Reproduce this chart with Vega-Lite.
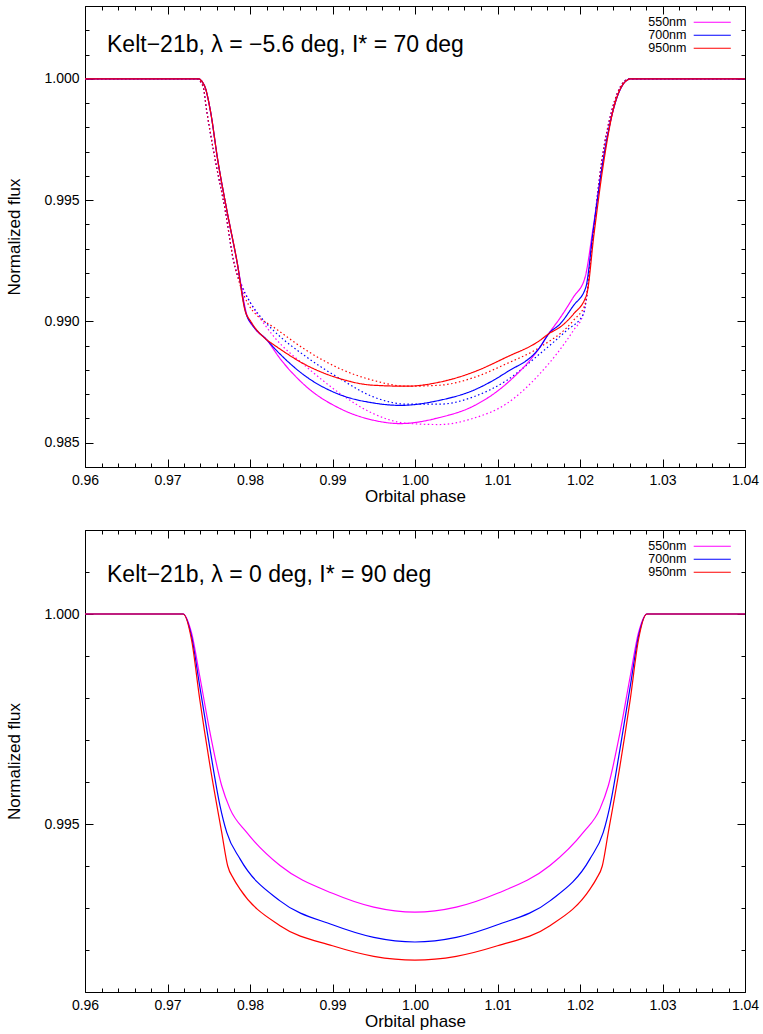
{
  "$schema": "https://vega.github.io/schema/vega-lite/v6.json",
  "padding": {"left": 5, "top": 5, "right": 4, "bottom": 1},
  "background": "white",
  "config": {
    "font": "Liberation Sans",
    "view": {"stroke": "black", "strokeWidth": 1},
    "axis": {"domain": false, "grid": false, "tickColor": "black", "tickWidth": 1, "labelColor": "black", "titleColor": "black", "titleFontSize": 17, "titleFontWeight": "normal", "labelFont": "Liberation Sans", "titleFont": "Liberation Sans", "labelOverlap": false, "labelFlush": false},
    "legend": {"orient": "none", "title": null, "symbolType": "M-5,0H5", "symbolSize": 55, "symbolStrokeWidth": 1.2, "labelAlign": "right", "labelOffset": -32, "labelFontSize": 12.5, "labelFont": "Liberation Sans", "labelColor": "black", "rowPadding": 0, "padding": 0, "legendX": 621, "legendY": 10}
  },
  "spacing": 24,
  "resolve": {"scale": {"x": "independent", "y": "independent", "color": "shared"}, "legend": {"color": "independent"}},
  "datasets": {
    "top": [
      {"band":"550nm","style":"dotted","phase":0.96,"flux":1.0},{"band":"550nm","style":"dotted","phase":0.9735,"flux":1.0},{"band":"550nm","style":"dotted","phase":0.9743,"flux":0.9997},{"band":"550nm","style":"dotted","phase":0.97475,"flux":0.99868},{"band":"550nm","style":"dotted","phase":0.9758,"flux":0.99663},{"band":"550nm","style":"dotted","phase":0.977,"flux":0.99457},{"band":"550nm","style":"dotted","phase":0.978,"flux":0.99251},{"band":"550nm","style":"dotted","phase":0.979,"flux":0.9915},{"band":"550nm","style":"dotted","phase":0.98,"flux":0.9908},{"band":"550nm","style":"dotted","phase":0.9815,"flux":0.99},{"band":"550nm","style":"dotted","phase":0.98283,"flux":0.9894},{"band":"550nm","style":"dotted","phase":0.98687,"flux":0.98812},{"band":"550nm","style":"dotted","phase":0.99091,"flux":0.98703},{"band":"550nm","style":"dotted","phase":0.99495,"flux":0.9862},{"band":"550nm","style":"dotted","phase":0.99899,"flux":0.9858},{"band":"550nm","style":"dotted","phase":1.003,"flux":0.98575},{"band":"550nm","style":"dotted","phase":1.007,"flux":0.986},{"band":"550nm","style":"dotted","phase":1.0111,"flux":0.98661},{"band":"550nm","style":"dotted","phase":1.01515,"flux":0.98785},{"band":"550nm","style":"dotted","phase":1.0192,"flux":0.98963},{"band":"550nm","style":"dotted","phase":1.0204,"flux":0.9903},{"band":"550nm","style":"dotted","phase":1.0208,"flux":0.991},{"band":"550nm","style":"dotted","phase":1.0215,"flux":0.9933},{"band":"550nm","style":"dotted","phase":1.02265,"flux":0.99663},{"band":"550nm","style":"dotted","phase":1.02385,"flux":0.99868},{"band":"550nm","style":"dotted","phase":1.02525,"flux":0.99985},{"band":"550nm","style":"dotted","phase":1.026,"flux":1.0},{"band":"550nm","style":"dotted","phase":1.04,"flux":1.0},
      {"band":"700nm","style":"dotted","phase":0.96,"flux":1.0},{"band":"700nm","style":"dotted","phase":0.9735,"flux":1.0},{"band":"700nm","style":"dotted","phase":0.9743,"flux":0.9997},{"band":"700nm","style":"dotted","phase":0.97475,"flux":0.99868},{"band":"700nm","style":"dotted","phase":0.9758,"flux":0.99663},{"band":"700nm","style":"dotted","phase":0.977,"flux":0.99457},{"band":"700nm","style":"dotted","phase":0.978,"flux":0.99251},{"band":"700nm","style":"dotted","phase":0.979,"flux":0.99145},{"band":"700nm","style":"dotted","phase":0.98,"flux":0.9908},{"band":"700nm","style":"dotted","phase":0.9815,"flux":0.9901},{"band":"700nm","style":"dotted","phase":0.98283,"flux":0.98963},{"band":"700nm","style":"dotted","phase":0.98687,"flux":0.98853},{"band":"700nm","style":"dotted","phase":0.99091,"flux":0.98764},{"band":"700nm","style":"dotted","phase":0.99495,"flux":0.98689},{"band":"700nm","style":"dotted","phase":0.99899,"flux":0.98659},{"band":"700nm","style":"dotted","phase":1.003,"flux":0.98659},{"band":"700nm","style":"dotted","phase":1.00707,"flux":0.98689},{"band":"700nm","style":"dotted","phase":1.01111,"flux":0.98757},{"band":"700nm","style":"dotted","phase":1.01515,"flux":0.98867},{"band":"700nm","style":"dotted","phase":1.01838,"flux":0.98963},{"band":"700nm","style":"dotted","phase":1.0204,"flux":0.9903},{"band":"700nm","style":"dotted","phase":1.0208,"flux":0.991},{"band":"700nm","style":"dotted","phase":1.0215,"flux":0.9933},{"band":"700nm","style":"dotted","phase":1.02265,"flux":0.99663},{"band":"700nm","style":"dotted","phase":1.02385,"flux":0.99868},{"band":"700nm","style":"dotted","phase":1.02525,"flux":0.99985},{"band":"700nm","style":"dotted","phase":1.026,"flux":1.0},{"band":"700nm","style":"dotted","phase":1.04,"flux":1.0},
      {"band":"950nm","style":"dotted","phase":0.96,"flux":1.0},{"band":"950nm","style":"dotted","phase":0.9735,"flux":1.0},{"band":"950nm","style":"dotted","phase":0.9743,"flux":0.9997},{"band":"950nm","style":"dotted","phase":0.97475,"flux":0.99868},{"band":"950nm","style":"dotted","phase":0.9758,"flux":0.99663},{"band":"950nm","style":"dotted","phase":0.977,"flux":0.99457},{"band":"950nm","style":"dotted","phase":0.978,"flux":0.99251},{"band":"950nm","style":"dotted","phase":0.9788,"flux":0.9915},{"band":"950nm","style":"dotted","phase":0.9798,"flux":0.9907},{"band":"950nm","style":"dotted","phase":0.981,"flux":0.9902},{"band":"950nm","style":"dotted","phase":0.98283,"flux":0.98977},{"band":"950nm","style":"dotted","phase":0.98687,"flux":0.9888},{"band":"950nm","style":"dotted","phase":0.99091,"flux":0.98805},{"band":"950nm","style":"dotted","phase":0.99495,"flux":0.98757},{"band":"950nm","style":"dotted","phase":0.99899,"flux":0.98733},{"band":"950nm","style":"dotted","phase":1.003,"flux":0.98737},{"band":"950nm","style":"dotted","phase":1.00707,"flux":0.98768},{"band":"950nm","style":"dotted","phase":1.01111,"flux":0.98826},{"band":"950nm","style":"dotted","phase":1.01515,"flux":0.98894},{"band":"950nm","style":"dotted","phase":1.0192,"flux":0.99004},{"band":"950nm","style":"dotted","phase":1.0206,"flux":0.9907},{"band":"950nm","style":"dotted","phase":1.0215,"flux":0.9933},{"band":"950nm","style":"dotted","phase":1.02265,"flux":0.99663},{"band":"950nm","style":"dotted","phase":1.02385,"flux":0.99868},{"band":"950nm","style":"dotted","phase":1.02525,"flux":0.99985},{"band":"950nm","style":"dotted","phase":1.026,"flux":1.0},{"band":"950nm","style":"dotted","phase":1.04,"flux":1.0},
      {"band":"550nm","style":"solid","phase":0.96,"flux":1.0},{"band":"550nm","style":"solid","phase":0.9737,"flux":1.0},{"band":"550nm","style":"solid","phase":0.9745,"flux":0.9997},{"band":"550nm","style":"solid","phase":0.9752,"flux":0.99868},{"band":"550nm","style":"solid","phase":0.9761,"flux":0.99663},{"band":"550nm","style":"solid","phase":0.9772,"flux":0.99457},{"band":"550nm","style":"solid","phase":0.9784,"flux":0.99251},{"band":"550nm","style":"solid","phase":0.9796,"flux":0.9903},{"band":"550nm","style":"solid","phase":0.9806,"flux":0.9897},{"band":"550nm","style":"solid","phase":0.982,"flux":0.98925},{"band":"550nm","style":"solid","phase":0.98364,"flux":0.98847},{"band":"550nm","style":"solid","phase":0.98687,"flux":0.9873},{"band":"550nm","style":"solid","phase":0.99091,"flux":0.98641},{"band":"550nm","style":"solid","phase":0.99495,"flux":0.98593},{"band":"550nm","style":"solid","phase":0.99818,"flux":0.98579},{"band":"550nm","style":"solid","phase":1.003,"flux":0.98604},{"band":"550nm","style":"solid","phase":1.00707,"flux":0.98651},{"band":"550nm","style":"solid","phase":1.01111,"flux":0.98744},{"band":"550nm","style":"solid","phase":1.01515,"flux":0.98894},{"band":"550nm","style":"solid","phase":1.0162,"flux":0.98949},{"band":"550nm","style":"solid","phase":1.0176,"flux":0.99015},{"band":"550nm","style":"solid","phase":1.0192,"flux":0.991},{"band":"550nm","style":"solid","phase":1.0206,"flux":0.9918},{"band":"550nm","style":"solid","phase":1.0216,"flux":0.99388},{"band":"550nm","style":"solid","phase":1.0228,"flux":0.99663},{"band":"550nm","style":"solid","phase":1.024,"flux":0.99868},{"band":"550nm","style":"solid","phase":1.0254,"flux":0.99985},{"band":"550nm","style":"solid","phase":1.0262,"flux":1.0},{"band":"550nm","style":"solid","phase":1.04,"flux":1.0},
      {"band":"700nm","style":"solid","phase":0.96,"flux":1.0},{"band":"700nm","style":"solid","phase":0.9737,"flux":1.0},{"band":"700nm","style":"solid","phase":0.9745,"flux":0.9997},{"band":"700nm","style":"solid","phase":0.9752,"flux":0.99868},{"band":"700nm","style":"solid","phase":0.9761,"flux":0.99663},{"band":"700nm","style":"solid","phase":0.9772,"flux":0.99457},{"band":"700nm","style":"solid","phase":0.9784,"flux":0.99251},{"band":"700nm","style":"solid","phase":0.9795,"flux":0.99035},{"band":"700nm","style":"solid","phase":0.9803,"flux":0.98985},{"band":"700nm","style":"solid","phase":0.982,"flux":0.98925},{"band":"700nm","style":"solid","phase":0.98283,"flux":0.98894},{"band":"700nm","style":"solid","phase":0.98687,"flux":0.98771},{"band":"700nm","style":"solid","phase":0.99091,"flux":0.98698},{"band":"700nm","style":"solid","phase":0.99495,"flux":0.98664},{"band":"700nm","style":"solid","phase":0.99818,"flux":0.98654},{"band":"700nm","style":"solid","phase":1.003,"flux":0.98675},{"band":"700nm","style":"solid","phase":1.00707,"flux":0.98716},{"band":"700nm","style":"solid","phase":1.01111,"flux":0.98791},{"band":"700nm","style":"solid","phase":1.01515,"flux":0.98894},{"band":"700nm","style":"solid","phase":1.0162,"flux":0.98949},{"band":"700nm","style":"solid","phase":1.0176,"flux":0.9899},{"band":"700nm","style":"solid","phase":1.0192,"flux":0.99065},{"band":"700nm","style":"solid","phase":1.0207,"flux":0.9914},{"band":"700nm","style":"solid","phase":1.0216,"flux":0.99375},{"band":"700nm","style":"solid","phase":1.0228,"flux":0.99663},{"band":"700nm","style":"solid","phase":1.024,"flux":0.99868},{"band":"700nm","style":"solid","phase":1.0254,"flux":0.99985},{"band":"700nm","style":"solid","phase":1.0262,"flux":1.0},{"band":"700nm","style":"solid","phase":1.04,"flux":1.0},
      {"band":"950nm","style":"solid","phase":0.96,"flux":1.0},{"band":"950nm","style":"solid","phase":0.9737,"flux":1.0},{"band":"950nm","style":"solid","phase":0.9745,"flux":0.9997},{"band":"950nm","style":"solid","phase":0.9752,"flux":0.99868},{"band":"950nm","style":"solid","phase":0.9761,"flux":0.99663},{"band":"950nm","style":"solid","phase":0.9772,"flux":0.99457},{"band":"950nm","style":"solid","phase":0.9784,"flux":0.99251},{"band":"950nm","style":"solid","phase":0.9794,"flux":0.99045},{"band":"950nm","style":"solid","phase":0.9801,"flux":0.99},{"band":"950nm","style":"solid","phase":0.982,"flux":0.98925},{"band":"950nm","style":"solid","phase":0.98283,"flux":0.98905},{"band":"950nm","style":"solid","phase":0.98687,"flux":0.98819},{"band":"950nm","style":"solid","phase":0.99091,"flux":0.98764},{"band":"950nm","style":"solid","phase":0.99495,"flux":0.98737},{"band":"950nm","style":"solid","phase":0.99899,"flux":0.98733},{"band":"950nm","style":"solid","phase":1.003,"flux":0.9875},{"band":"950nm","style":"solid","phase":1.00707,"flux":0.98791},{"band":"950nm","style":"solid","phase":1.01111,"flux":0.98853},{"band":"950nm","style":"solid","phase":1.01515,"flux":0.98922},{"band":"950nm","style":"solid","phase":1.0162,"flux":0.98949},{"band":"950nm","style":"solid","phase":1.0176,"flux":0.98977},{"band":"950nm","style":"solid","phase":1.0192,"flux":0.9903},{"band":"950nm","style":"solid","phase":1.0208,"flux":0.9911},{"band":"950nm","style":"solid","phase":1.0217,"flux":0.9936},{"band":"950nm","style":"solid","phase":1.0228,"flux":0.9964},{"band":"950nm","style":"solid","phase":1.024,"flux":0.99868},{"band":"950nm","style":"solid","phase":1.0254,"flux":0.99985},{"band":"950nm","style":"solid","phase":1.0262,"flux":1.0},{"band":"950nm","style":"solid","phase":1.04,"flux":1.0}
    ],
    "bottom": [
      {"band":"550nm","phase":0.96,"flux":1.0},{"band":"550nm","phase":0.9719,"flux":1.0},{"band":"550nm","phase":0.9729,"flux":0.99956},{"band":"550nm","phase":0.9739,"flux":0.99853},{"band":"550nm","phase":0.97515,"flux":0.99718},{"band":"550nm","phase":0.97657,"flux":0.99591},{"band":"550nm","phase":0.97758,"flux":0.99536},{"band":"550nm","phase":0.9796,"flux":0.9948},{"band":"550nm","phase":0.98364,"flux":0.99401},{"band":"550nm","phase":0.99,"flux":0.99335},{"band":"550nm","phase":0.995,"flux":0.99302},{"band":"550nm","phase":1.0,"flux":0.9929},{"band":"550nm","phase":1.005,"flux":0.99302},{"band":"550nm","phase":1.01,"flux":0.99335},{"band":"550nm","phase":1.01636,"flux":0.99401},{"band":"550nm","phase":1.0204,"flux":0.9948},{"band":"550nm","phase":1.02242,"flux":0.99536},{"band":"550nm","phase":1.02343,"flux":0.99591},{"band":"550nm","phase":1.02485,"flux":0.99718},{"band":"550nm","phase":1.0261,"flux":0.99853},{"band":"550nm","phase":1.0271,"flux":0.99956},{"band":"550nm","phase":1.0281,"flux":1.0},{"band":"550nm","phase":1.04,"flux":1.0},
      {"band":"700nm","phase":0.96,"flux":1.0},{"band":"700nm","phase":0.9719,"flux":1.0},{"band":"700nm","phase":0.9729,"flux":0.99948},{"band":"700nm","phase":0.9739,"flux":0.99829},{"band":"700nm","phase":0.97515,"flux":0.99679},{"band":"700nm","phase":0.97636,"flux":0.99544},{"band":"700nm","phase":0.97718,"flux":0.9948},{"band":"700nm","phase":0.97879,"flux":0.99417},{"band":"700nm","phase":0.98364,"flux":0.99317},{"band":"700nm","phase":0.99,"flux":0.9926},{"band":"700nm","phase":0.995,"flux":0.9923},{"band":"700nm","phase":1.0,"flux":0.99219},{"band":"700nm","phase":1.005,"flux":0.9923},{"band":"700nm","phase":1.01,"flux":0.9926},{"band":"700nm","phase":1.01636,"flux":0.99317},{"band":"700nm","phase":1.02121,"flux":0.99417},{"band":"700nm","phase":1.02282,"flux":0.9948},{"band":"700nm","phase":1.02364,"flux":0.99544},{"band":"700nm","phase":1.02485,"flux":0.99679},{"band":"700nm","phase":1.0261,"flux":0.99829},{"band":"700nm","phase":1.0271,"flux":0.99948},{"band":"700nm","phase":1.0281,"flux":1.0},{"band":"700nm","phase":1.04,"flux":1.0},
      {"band":"950nm","phase":0.96,"flux":1.0},{"band":"950nm","phase":0.9719,"flux":1.0},{"band":"950nm","phase":0.9729,"flux":0.9994},{"band":"950nm","phase":0.9739,"flux":0.99798},{"band":"950nm","phase":0.97515,"flux":0.99639},{"band":"950nm","phase":0.97657,"flux":0.9948},{"band":"950nm","phase":0.9773,"flux":0.994},{"band":"950nm","phase":0.978,"flux":0.9937},{"band":"950nm","phase":0.97879,"flux":0.99345},{"band":"950nm","phase":0.98364,"flux":0.99258},{"band":"950nm","phase":0.99,"flux":0.9921},{"band":"950nm","phase":0.995,"flux":0.99185},{"band":"950nm","phase":1.0,"flux":0.99176},{"band":"950nm","phase":1.005,"flux":0.99185},{"band":"950nm","phase":1.01,"flux":0.9921},{"band":"950nm","phase":1.01636,"flux":0.99258},{"band":"950nm","phase":1.02121,"flux":0.99345},{"band":"950nm","phase":1.022,"flux":0.9937},{"band":"950nm","phase":1.0227,"flux":0.994},{"band":"950nm","phase":1.02343,"flux":0.9948},{"band":"950nm","phase":1.02485,"flux":0.99639},{"band":"950nm","phase":1.0261,"flux":0.99798},{"band":"950nm","phase":1.0271,"flux":0.9994},{"band":"950nm","phase":1.0281,"flux":1.0},{"band":"950nm","phase":1.04,"flux":1.0}
    ]
  },
  "vconcat": [
    {
      "width": 660, "height": 461,
      "layer": [
        {
          "data": {"name": "top"},
          "mark": {"type": "line", "strokeWidth": 1.2, "interpolate": "monotone"},
          "encoding": {
            "x": {"field": "phase", "type": "quantitative", "scale": {"domain": [0.96, 1.04], "nice": false, "zero": false},
              "axis": {"orient": "bottom", "title": "Orbital phase", "values": [0.96,0.962,0.964,0.966,0.968,0.97,0.972,0.974,0.976,0.978,0.98,0.982,0.984,0.986,0.988,0.99,0.992,0.994,0.996,0.998,1,1.002,1.004,1.006,1.008,1.01,1.012,1.014,1.016,1.018,1.02,1.022,1.024,1.026,1.028,1.03,1.032,1.034,1.036,1.038,1.04],
                "labelExpr": "abs(datum.value*100-round(datum.value*100))<0.01 ? format(datum.value,'.2f') : ''",
                "labelFontSize": {"condition": {"test": "abs(datum.value*100-round(datum.value*100))<0.01", "value": 14}, "value": 0},
                "tickSize": {"condition": {"test": "abs(datum.value*100-round(datum.value*100))<0.01", "value": -8}, "value": -4},
                "labelPadding": 14, "titlePadding": 1}},
            "y": {"field": "flux", "type": "quantitative", "scale": {"domain": [0.984, 1.003], "nice": false, "zero": false},
              "axis": {"orient": "left", "title": "Normalized flux", "values": [0.984,0.985,0.986,0.987,0.988,0.989,0.99,0.991,0.992,0.993,0.994,0.995,0.996,0.997,0.998,0.999,1,1.001,1.002,1.003],
                "labelExpr": "abs(datum.value*200-round(datum.value*200))<0.01 ? format(datum.value,'.3f') : ''",
                "labelFontSize": {"condition": {"test": "abs(datum.value*200-round(datum.value*200))<0.01", "value": 14}, "value": 0},
                "tickSize": {"condition": {"test": "abs(datum.value*200-round(datum.value*200))<0.01", "value": -8}, "value": -4},
                "labelPadding": 14, "titlePadding": 20}},
            "color": {"field": "band", "type": "nominal", "scale": {"domain": ["550nm", "700nm", "950nm"], "range": ["#ff00ff", "#0000ff", "#ff0000"]}},
            "strokeDash": {"field": "style", "type": "nominal", "scale": {"domain": ["solid", "dotted"], "range": [[1, 0], [1.5, 2.5]]}, "legend": null}
          }
        },
        {
          "data": {"name": "top"},
          "mark": {"type": "line", "opacity": 0},
          "encoding": {
            "x": {"field": "phase", "type": "quantitative",
              "axis": {"orient": "top", "title": null, "labels": false, "values": [0.96,0.962,0.964,0.966,0.968,0.97,0.972,0.974,0.976,0.978,0.98,0.982,0.984,0.986,0.988,0.99,0.992,0.994,0.996,0.998,1,1.002,1.004,1.006,1.008,1.01,1.012,1.014,1.016,1.018,1.02,1.022,1.024,1.026,1.028,1.03,1.032,1.034,1.036,1.038,1.04],
                "tickSize": {"condition": {"test": "abs(datum.value*100-round(datum.value*100))<0.01", "value": -8}, "value": -4}}},
            "y": {"field": "flux", "type": "quantitative",
              "axis": {"orient": "right", "title": null, "labels": false, "values": [0.984,0.985,0.986,0.987,0.988,0.989,0.99,0.991,0.992,0.993,0.994,0.995,0.996,0.997,0.998,0.999,1,1.001,1.002,1.003],
                "tickSize": {"condition": {"test": "abs(datum.value*200-round(datum.value*200))<0.01", "value": -8}, "value": -4}}}
          }
        },
        {
          "data": {"values": [{"label": "Kelt−21b, λ = −5.6 deg, I* = 70 deg", "phase": 0.96267, "flux": 1.00138}]},
          "mark": {"type": "text", "align": "left", "baseline": "middle", "fontSize": 23, "font": "Liberation Sans", "color": "black"},
          "encoding": {
            "x": {"field": "phase", "type": "quantitative", "axis": null},
            "y": {"field": "flux", "type": "quantitative", "axis": null},
            "text": {"field": "label"}
          }
        }
      ],
      "resolve": {"axis": {"x": "independent", "y": "independent"}}
    },
    {
      "width": 660, "height": 462,
      "layer": [
        {
          "data": {"name": "bottom"},
          "mark": {"type": "line", "strokeWidth": 1.2, "interpolate": "monotone"},
          "encoding": {
            "x": {"field": "phase", "type": "quantitative", "scale": {"domain": [0.96, 1.04], "nice": false, "zero": false},
              "axis": {"orient": "bottom", "title": "Orbital phase", "values": [0.96,0.962,0.964,0.966,0.968,0.97,0.972,0.974,0.976,0.978,0.98,0.982,0.984,0.986,0.988,0.99,0.992,0.994,0.996,0.998,1,1.002,1.004,1.006,1.008,1.01,1.012,1.014,1.016,1.018,1.02,1.022,1.024,1.026,1.028,1.03,1.032,1.034,1.036,1.038,1.04],
                "labelExpr": "abs(datum.value*100-round(datum.value*100))<0.01 ? format(datum.value,'.2f') : ''",
                "labelFontSize": {"condition": {"test": "abs(datum.value*100-round(datum.value*100))<0.01", "value": 14}, "value": 0},
                "tickSize": {"condition": {"test": "abs(datum.value*100-round(datum.value*100))<0.01", "value": -8}, "value": -4},
                "labelPadding": 14, "titlePadding": 1}},
            "y": {"field": "flux", "type": "quantitative", "scale": {"domain": [0.991, 1.002], "nice": false, "zero": false},
              "axis": {"orient": "left", "title": "Normalized flux", "values": [0.991,0.992,0.993,0.994,0.995,0.996,0.997,0.998,0.999,1,1.001,1.002],
                "labelExpr": "abs(datum.value*200-round(datum.value*200))<0.01 ? format(datum.value,'.3f') : ''",
                "labelFontSize": {"condition": {"test": "abs(datum.value*200-round(datum.value*200))<0.01", "value": 14}, "value": 0},
                "tickSize": {"condition": {"test": "abs(datum.value*200-round(datum.value*200))<0.01", "value": -8}, "value": -4},
                "labelPadding": 14, "titlePadding": 20}},
            "color": {"field": "band", "type": "nominal", "scale": {"domain": ["550nm", "700nm", "950nm"], "range": ["#ff00ff", "#0000ff", "#ff0000"]}}
          }
        },
        {
          "data": {"name": "bottom"},
          "mark": {"type": "line", "opacity": 0},
          "encoding": {
            "x": {"field": "phase", "type": "quantitative",
              "axis": {"orient": "top", "title": null, "labels": false, "values": [0.96,0.962,0.964,0.966,0.968,0.97,0.972,0.974,0.976,0.978,0.98,0.982,0.984,0.986,0.988,0.99,0.992,0.994,0.996,0.998,1,1.002,1.004,1.006,1.008,1.01,1.012,1.014,1.016,1.018,1.02,1.022,1.024,1.026,1.028,1.03,1.032,1.034,1.036,1.038,1.04],
                "tickSize": {"condition": {"test": "abs(datum.value*100-round(datum.value*100))<0.01", "value": -8}, "value": -4}}},
            "y": {"field": "flux", "type": "quantitative",
              "axis": {"orient": "right", "title": null, "labels": false, "values": [0.991,0.992,0.993,0.994,0.995,0.996,0.997,0.998,0.999,1,1.001,1.002],
                "tickSize": {"condition": {"test": "abs(datum.value*200-round(datum.value*200))<0.01", "value": -8}, "value": -4}}}
          }
        },
        {
          "data": {"values": [{"label": "Kelt−21b, λ = 0 deg, I* = 90 deg", "phase": 0.96267, "flux": 1.00093}]},
          "mark": {"type": "text", "align": "left", "baseline": "middle", "fontSize": 23, "font": "Liberation Sans", "color": "black"},
          "encoding": {
            "x": {"field": "phase", "type": "quantitative", "axis": null},
            "y": {"field": "flux", "type": "quantitative", "axis": null},
            "text": {"field": "label"}
          }
        }
      ],
      "resolve": {"axis": {"x": "independent", "y": "independent"}}
    }
  ]
}
